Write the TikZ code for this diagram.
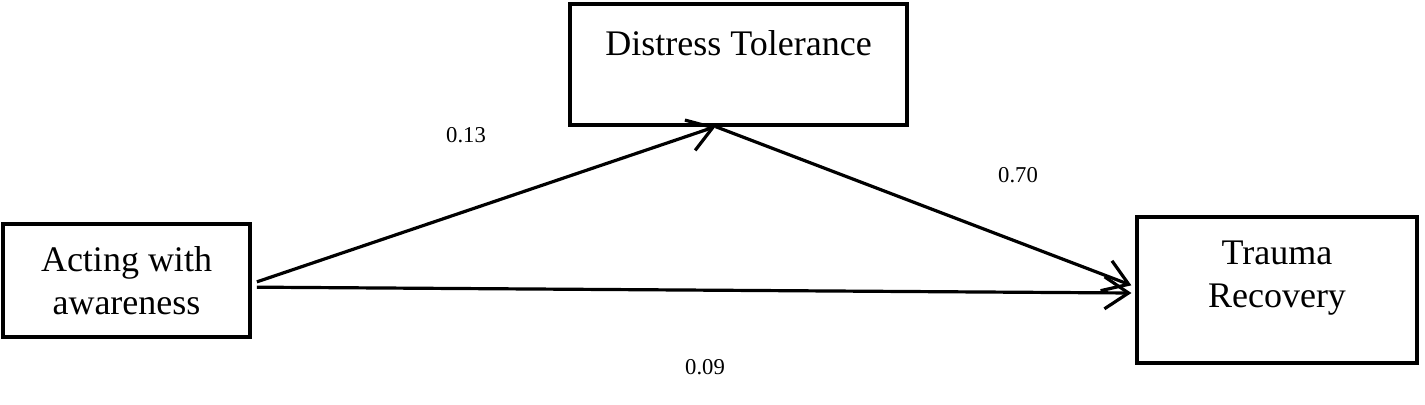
\documentclass[tikz,border=0pt]{standalone}
\usepackage{fontspec}
\setmainfont{Liberation Serif}
\usetikzlibrary{arrows.meta,positioning}

\tikzset{
	varbox/.style={draw, line width=2.4pt, inner sep=0pt},
	vartext/.style={align=center, inner sep=0pt, font=\fontsize{27}{32}\selectfont},
	path/.style={line width=2.4pt, -{Straight Barb[length=18pt,width=24pt,line width=2.4pt]}},
	coef/.style={inner sep=0pt, font=\fontsize{17}{20}\selectfont}
}

\begin{document}
\begin{tikzpicture}[x=0.75pt, y=-0.75pt]
			\useasboundingbox (0,0) rectangle (1425,404);
			
			% Variables
			\node[varbox, minimum width=185.25pt, minimum height=84.75pt] (aw) at (126.5,280.5) {};
			\node[varbox, minimum width=252.75pt, minimum height=90.75pt] (dt) at (738.5,64.5) {};
			\node[varbox, minimum width=210pt, minimum height=109.5pt] (tr) at (1277,290) {};
			
			% labels (base = last line)
			\node[vartext, anchor=base] (awtext) at (126.5,314) {Acting with\\awareness};
			\node[vartext, anchor=base] (dttext) at (738.5,55) {Distress Tolerance};
			\node[vartext, anchor=base] (trtext) at (1277,307) {Trauma\\Recovery};
			
			% Paths
			\draw[path] ([shift={(4pt,-1pt)}]aw.east) -- ([xshift=-17.25pt]dt.south);
			\draw[path] ([xshift=-17.25pt]dt.south) -- ([shift={(-3pt,3.5pt)}]tr.west);
			\draw[path] ([shift={(4pt,-5pt)}]aw.east) -- ([shift={(-3pt,-2.25pt)}]tr.west);
			
			% Coefficients
			\node[coef] (c1) at (466,135) {0.13};
			\node[coef] (c2) at (1018,175) {0.70};
			\node[coef] (c3) at (705,367) {0.09};
		\end{tikzpicture}
\end{document}
